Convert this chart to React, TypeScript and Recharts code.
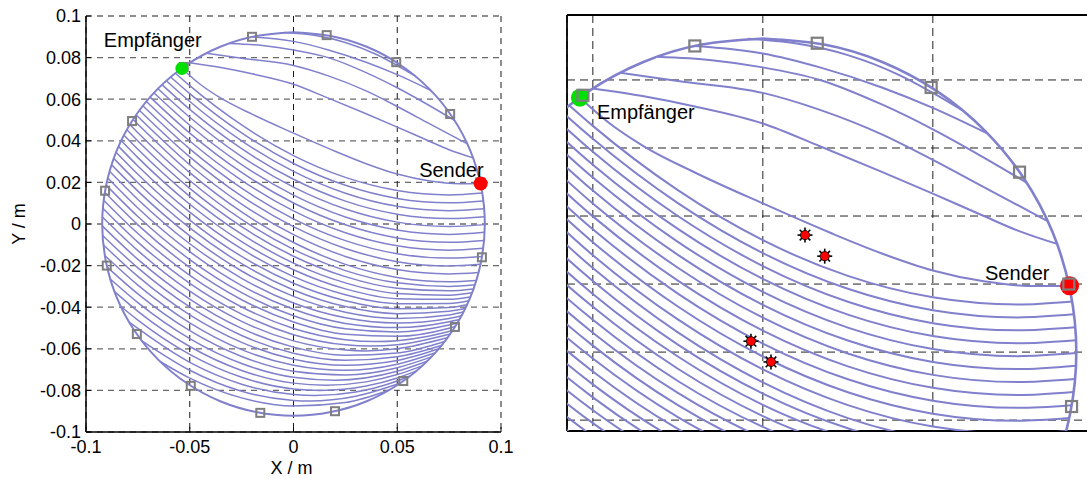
import React from 'react';
import { ComposedChart, Line, Scatter, XAxis, YAxis, CartesianGrid, Label } from 'recharts';

type Pt = [number, number];

// ---------- axis ticks / domains ----------
const X_TICKS_LEFT = [-0.1, -0.05, 0, 0.05, 0.1];
const Y_TICKS_LEFT = [-0.1, -0.08, -0.06, -0.04, -0.02, 0, 0.02, 0.04, 0.06, 0.08, 0.1];
const X_TICKS_RIGHT = [-0.05, 0, 0.05];
const Y_TICKS_RIGHT = [-0.02, 0, 0.02, 0.04, 0.06, 0.08];
const LEFT_X_DOMAIN: [number, number] = [-0.1, 0.1];
const LEFT_Y_DOMAIN: [number, number] = [-0.1, 0.1];
const RIGHT_X_DOMAIN: [number, number] = [-0.0576, 0.1024];
const RIGHT_Y_DOMAIN: [number, number] = [-0.0232, 0.0991];

// ---------- labelled points ----------
const SENDER: Pt[] = [[0.0902, 0.0195]];
const RECEIVER: Pt[] = [[-0.0538, 0.0748]];
const SENDER_LABEL = 'Sender';
const RECEIVER_LABEL = 'Empfänger';

// 16 electrodes on the rim
const ELECTRODES: Pt[] = [
  [0.09, 0.02], [0.0755, 0.0529], [0.0495, 0.0778], [0.016, 0.0908],
  [-0.02, 0.09], [-0.0529, 0.0755], [-0.0778, 0.0495], [-0.0908, 0.016],
  [-0.09, -0.02], [-0.0755, -0.0529], [-0.0495, -0.0778], [-0.016, -0.0908],
  [0.02, -0.09], [0.0529, -0.0755], [0.0778, -0.0495], [0.0908, -0.016],
];

// defects shown in the zoomed view
const DEFECTS: Pt[] = [
  [0.0124, 0.0344], [0.0182, 0.0282], [-0.0035, 0.0032], [0.0024, -0.0029],
];

// rim of the cross-section
const BOUNDARY: Pt[] = [
  [0, 0.0922], [-0.018, 0.0904], [-0.0353, 0.0852], [-0.0512, 0.0767], [-0.0652, 0.0652],
  [-0.0767, 0.0512], [-0.0852, 0.0353], [-0.0904, 0.018], [-0.0922, 0], [-0.0904, -0.018],
  [-0.0852, -0.0353], [-0.0767, -0.0512], [-0.0652, -0.0652], [-0.0512, -0.0767],
  [-0.0353, -0.0852], [-0.018, -0.0904], [0, -0.0922], [0.018, -0.0904], [0.0353, -0.0852],
  [0.0512, -0.0767], [0.0652, -0.0652], [0.0767, -0.0512], [0.0852, -0.0353], [0.0904, -0.018],
  [0.0922, 0], [0.0904, 0.018], [0.0852, 0.0353], [0.0767, 0.0512], [0.0652, 0.0652],
  [0.0512, 0.0767], [0.0353, 0.0852], [0.018, 0.0904], [0, 0.0922],
];

// isochrone curves above the Empfänger–Sender path
const UPPER_PATHS: Pt[][] = [
  [[-0.0045, 0.0921], [0.01, 0.0907], [0.025, 0.0873], [0.04, 0.0815], [0.05, 0.0762], [0.0585, 0.0712]],
  [[-0.02, 0.09], [0, 0.0878], [0.0168, 0.0837], [0.035, 0.0778], [0.05, 0.0718], [0.066, 0.0643]],
  [[-0.031, 0.0868], [-0.015, 0.0858], [0, 0.0837], [0.0168, 0.08], [0.035, 0.0728], [0.05, 0.0655], [0.065, 0.0572], [0.0776, 0.0498]],
  [[-0.042, 0.0821], [-0.025, 0.0797], [0, 0.0762], [0.0168, 0.0712], [0.035, 0.064], [0.05, 0.0565], [0.065, 0.0485], [0.0838, 0.0385]],
  [[-0.05, 0.0775], [-0.035, 0.0752], [-0.02, 0.0722], [0, 0.0672], [0.0168, 0.0605], [0.035, 0.053], [0.05, 0.0466], [0.065, 0.04], [0.075, 0.0357], [0.0865, 0.0318]],
];

// Empfänger–Sender path and the curves below it
const LOWER_PATHS: Pt[][] = [
  [[-0.0538, 0.0748], [-0.045, 0.0672], [-0.035, 0.0605], [-0.02, 0.0528], [0, 0.0437], [0.02, 0.035], [0.035, 0.029], [0.05, 0.024], [0.065, 0.0208], [0.08, 0.0194], [0.0902, 0.0195]],
  [[-0.0569, 0.0725], [-0.05, 0.0665], [-0.025, 0.0476], [0, 0.0329], [0.025, 0.0224], [0.05, 0.0161], [0.075, 0.014], [0.091, 0.0149]],
  [[-0.0592, 0.0707], [-0.05, 0.0627], [-0.025, 0.0438], [0, 0.0291], [0.025, 0.0186], [0.05, 0.0123], [0.075, 0.0102], [0.0915, 0.0111]],
  [[-0.0613, 0.0689], [-0.05, 0.0589], [-0.025, 0.04], [0, 0.0253], [0.025, 0.0148], [0.05, 0.0085], [0.075, 0.0064], [0.0919, 0.0073]],
  [[-0.0633, 0.0669], [-0.05, 0.0551], [-0.025, 0.0362], [0, 0.0215], [0.025, 0.011], [0.05, 0.0047], [0.075, 0.0026], [0.0921, 0.0035]],
  [[-0.0653, 0.065], [-0.05, 0.0513], [-0.025, 0.0324], [0, 0.0177], [0.025, 0.0072], [0.05, 0.0009], [0.075, -0.0012], [0.0922, -0.0003]],
  [[-0.0672, 0.063], [-0.05, 0.0475], [-0.025, 0.0286], [0, 0.0139], [0.025, 0.0034], [0.05, -0.0029], [0.075, -0.005], [0.0921, -0.004]],
  [[-0.0691, 0.061], [-0.05, 0.0437], [-0.025, 0.0248], [0, 0.0101], [0.025, -0.0004], [0.05, -0.0067], [0.075, -0.0088], [0.0918, -0.0079]],
  [[-0.0709, 0.0589], [-0.05, 0.0399], [-0.025, 0.021], [0, 0.0063], [0.025, -0.0042], [0.05, -0.0105], [0.075, -0.0126], [0.0914, -0.0117]],
  [[-0.0725, 0.0567], [-0.05, 0.0361], [-0.025, 0.0172], [0, 0.0025], [0.025, -0.008], [0.05, -0.0143], [0.075, -0.0164], [0.0908, -0.0156]],
  [[-0.0742, 0.0546], [-0.05, 0.0323], [-0.025, 0.0134], [0, -0.0013], [0.025, -0.0118], [0.05, -0.0181], [0.075, -0.0202], [0.0901, -0.0194]],
  [[-0.0758, 0.0524], [-0.05, 0.0285], [-0.025, 0.0096], [0, -0.0051], [0.025, -0.0156], [0.05, -0.0219], [0.075, -0.024], [0.0892, -0.0233]],
  [[-0.0772, 0.0501], [-0.05, 0.0247], [-0.025, 0.0058], [0, -0.0089], [0.025, -0.0194], [0.05, -0.0257], [0.075, -0.0278], [0.0881, -0.0272]],
  [[-0.0788, 0.0477], [-0.075, 0.0439], [-0.05, 0.0209], [-0.025, 0.0022], [0, -0.0122], [0.025, -0.0224], [0.05, -0.0283], [0.075, -0.03], [0.0875, -0.0292]],
  [[-0.0803, 0.0453], [-0.075, 0.0399], [-0.05, 0.0171], [-0.025, -0.0013], [0, -0.0155], [0.025, -0.0253], [0.05, -0.0309], [0.075, -0.0321], [0.0867, -0.0312]],
  [[-0.0816, 0.0426], [-0.075, 0.0359], [-0.05, 0.0133], [-0.025, -0.0049], [0, -0.0188], [0.025, -0.0283], [0.05, -0.0334], [0.075, -0.0342], [0.0861, -0.0331]],
  [[-0.0829, 0.0399], [-0.075, 0.0319], [-0.05, 0.0095], [-0.025, -0.0085], [0, -0.022], [0.025, -0.0312], [0.05, -0.0359], [0.075, -0.0362], [0.0852, -0.0351]],
  [[-0.0842, 0.0372], [-0.075, 0.0279], [-0.05, 0.0057], [-0.025, -0.012], [0, -0.0253], [0.025, -0.034], [0.05, -0.0383], [0.075, -0.0382], [0.0845, -0.0369]],
  [[-0.0854, 0.0344], [-0.075, 0.0239], [-0.05, 0.0019], [-0.025, -0.0156], [0, -0.0285], [0.025, -0.0369], [0.05, -0.0407], [0.075, -0.0401], [0.0836, -0.0388]],
  [[-0.0864, 0.0313], [-0.075, 0.0198], [-0.05, -0.0019], [-0.025, -0.0191], [0, -0.0317], [0.025, -0.0397], [0.05, -0.0431], [0.075, -0.0419], [0.0826, -0.0406]],
  [[-0.0874, 0.0282], [-0.075, 0.0158], [-0.05, -0.0057], [-0.025, -0.0226], [0, -0.0348], [0.025, -0.0424], [0.05, -0.0454], [0.075, -0.0437], [0.0818, -0.0423]],
  [[-0.0884, 0.0251], [-0.075, 0.0118], [-0.05, -0.0095], [-0.025, -0.0261], [0, -0.038], [0.025, -0.0451], [0.05, -0.0476], [0.075, -0.0454], [0.0809, -0.0441]],
  [[-0.0894, 0.022], [-0.075, 0.0077], [-0.05, -0.0133], [-0.025, -0.0296], [0, -0.041], [0.025, -0.0478], [0.05, -0.0498], [0.075, -0.047], [0.0799, -0.0459]],
  [[-0.0903, 0.0187], [-0.075, 0.0036], [-0.05, -0.0171], [-0.025, -0.033], [0, -0.0441], [0.025, -0.0504], [0.05, -0.0519], [0.075, -0.0486], [0.0788, -0.0477]],
  [[-0.0909, 0.0151], [-0.075, -0.0004], [-0.05, -0.0209], [-0.025, -0.0364], [0, -0.0471], [0.025, -0.053], [0.05, -0.054], [0.075, -0.0501], [0.0779, -0.0493]],
  [[-0.0915, 0.0114], [-0.075, -0.0046], [-0.05, -0.0247], [-0.025, -0.0399], [0, -0.0502], [0.025, -0.0556], [0.04, -0.0565], [0.05, -0.0561], [0.065, -0.054], [0.0766, -0.0512]],
  [[-0.0919, 0.0076], [-0.075, -0.0087], [-0.05, -0.0285], [-0.025, -0.0433], [0, -0.0532], [0.025, -0.0581], [0.0372, -0.0587], [0.05, -0.0581], [0.0755, -0.0529]],
  [[-0.0921, 0.0034], [-0.075, -0.0128], [-0.05, -0.0323], [-0.025, -0.0468], [0, -0.0562], [0.025, -0.0606], [0.0345, -0.061], [0.05, -0.06], [0.0745, -0.0546]],
  [[-0.0922, -0.0009], [-0.075, -0.017], [-0.05, -0.0361], [-0.025, -0.0502], [0, -0.0592], [0.025, -0.0631], [0.05, -0.062], [0.0728, -0.0565]],
  [[-0.092, -0.0055], [-0.075, -0.0211], [-0.05, -0.0399], [-0.025, -0.0536], [0, -0.0621], [0.025, -0.0655], [0.05, -0.0638], [0.0716, -0.0583]],
  [[-0.0917, -0.01], [-0.075, -0.0252], [-0.05, -0.0437], [-0.025, -0.0569], [0, -0.065], [0.025, -0.0679], [0.05, -0.0656], [0.07, -0.06]],
  [[-0.0907, -0.0154], [-0.075, -0.0294], [-0.05, -0.0475], [-0.025, -0.0604], [0, -0.0679], [0.025, -0.0703], [0.05, -0.0674], [0.0684, -0.0619]],
  [[-0.0898, -0.0207], [-0.075, -0.0336], [-0.05, -0.0513], [-0.025, -0.0637], [0, -0.0708], [0.025, -0.0726], [0.05, -0.0691], [0.0665, -0.0639]],
  [[-0.0886, -0.0262], [-0.075, -0.0378], [-0.05, -0.0551], [-0.025, -0.0671], [0, -0.0737], [0.02, -0.0751], [0.05, -0.0708], [0.0644, -0.066]],
  [[-0.0865, -0.0323], [-0.075, -0.042], [-0.05, -0.0589], [-0.025, -0.0704], [0, -0.0765], [0.0156, -0.0775], [0.035, -0.0759], [0.05, -0.0724], [0.062, -0.0682]],
  [[-0.0835, -0.0394], [-0.075, -0.0462], [-0.05, -0.0627], [-0.025, -0.0737], [0, -0.0793], [0.0129, -0.08], [0.035, -0.0779], [0.05, -0.074], [0.0593, -0.0706]],
  [[-0.0792, -0.0472], [-0.05, -0.0665], [-0.025, -0.077], [0, -0.082], [0.0102, -0.0825], [0.03, -0.0808], [0.05, -0.0755], [0.056, -0.0732]],
  [[-0.0734, -0.0559], [-0.05, -0.0703], [-0.025, -0.0804], [0, -0.0848], [0.0075, -0.0851], [0.03, -0.0828], [0.0513, -0.0766]],
  [[-0.0643, -0.0661], [-0.05, -0.0741], [-0.025, -0.0836], [0, -0.0875], [0.025, -0.0858], [0.0462, -0.0798]],
];

// ---------- styles ----------
const FONT = '"Liberation Sans", Arial, Helvetica, sans-serif';
const CURVE = '#8080CC';
const MARKER = '#7f7f7f';

const rows = (pts: Pt[]) => pts.map(([x, y]) => ({ x, y }));
const ALL_PATHS = [...UPPER_PATHS, ...LOWER_PATHS];

const YTick = (props: any) => {
  const { x, y, payload } = props;
  return (
    <g>
      <line x1={x + 5} x2={x + 10} y1={y} y2={y} stroke="#000" strokeWidth={1} />
      <text x={x} y={y} dy="0.355em" textAnchor="end" fontFamily={FONT} fontSize={18} fill="#000">
        {String(payload.value)}
      </text>
    </g>
  );
};

const XTick = (props: any) => {
  const { x, y, payload } = props;
  return (
    <g>
      <line x1={x} x2={x} y1={y - 8} y2={y - 13} stroke="#000" strokeWidth={1} />
      <text x={x} y={y} dy="0.71em" textAnchor="middle" fontFamily={FONT} fontSize={18} fill="#000">
        {String(payload.value)}
      </text>
    </g>
  );
};

// the zoomed panel has no tick labels
const NoTick = () => <g />;

const squareShape = (size: number, sw: number) => (p: any) => (
  <rect x={p.cx - size / 2} y={p.cy - size / 2} width={size} height={size}
    fill="none" stroke={MARKER} strokeWidth={sw} />
);

const dotShape = (r: number, fill: string, text: string, dx: number, dy: number, anchor: string) => (p: any) => (
  <g>
    {r > 0 ? <circle cx={p.cx} cy={p.cy} r={r} fill={fill} stroke="none" /> : null}
    {text ? <text x={p.cx + dx} y={p.cy + dy} textAnchor={anchor} fontFamily={FONT} fontSize={20} fill="#000">{text}</text> : null}
  </g>
);

const starShape = (p: any) => {
  const spikes = [];
  for (let i = 0; i < 8; i++) {
    const a = (i * Math.PI) / 4;
    spikes.push(
      <line key={i} x1={p.cx} y1={p.cy} x2={p.cx + 7.5 * Math.cos(a)} y2={p.cy + 7.5 * Math.sin(a)}
        stroke="#000" strokeWidth={1.6} />
    );
  }
  return (
    <g>
      {spikes}
      <circle cx={p.cx} cy={p.cy} r={4.6} fill="#ff0000" stroke="#000" strokeWidth={0.8} />
    </g>
  );
};

const curves = (sw: number, bw: number) => [
  ...ALL_PATHS.map((p, i) => (
    <Line key={'c' + i} data={rows(p)} dataKey="y" type="monotone" stroke={CURVE} strokeWidth={sw}
      dot={false} activeDot={false} isAnimationActive={false} legendType="none" />
  )),
  <Line key="rim" data={rows(BOUNDARY)} dataKey="y" type="natural" stroke={CURVE} strokeWidth={bw}
    dot={false} activeDot={false} isAnimationActive={false} legendType="none" />,
];

// frame lines of the zoomed panel: at the edges of the plotting area
const frameRows = ({ offset }: any) => [offset.top, offset.top + offset.height];
const frameCols = ({ offset }: any) => [offset.left, offset.left + offset.width];

const LeftPanel = () => (
  <ComposedChart width={520} height={479} margin={{ top: 16, right: 19, bottom: 17, left: 6 }}>
    <CartesianGrid horizontal={true} vertical={false} stroke="#6a6a6a" strokeWidth={1.3} strokeDasharray="6 5" />
    <CartesianGrid horizontal={false} vertical={true} stroke="#1a1a1a" strokeWidth={1} strokeDasharray="6 5" />
    <XAxis dataKey="x" type="number" domain={LEFT_X_DOMAIN} ticks={X_TICKS_LEFT} allowDataOverflow
      interval={0} height={30} tickSize={0} tickMargin={8} tickLine={false}
      axisLine={{ stroke: '#000', strokeWidth: 1.5 }} tick={<XTick />}>
      <Label content={(p: any) => {
        const vb = p.viewBox;
        return (
          <text x={vb.x + vb.width / 2 - 2} y={vb.y + 42} textAnchor="middle" fontFamily={FONT} fontSize={18} fill="#000">X / m</text>
        );
      }} />
    </XAxis>
    <YAxis dataKey="y" type="number" domain={LEFT_Y_DOMAIN} ticks={Y_TICKS_LEFT} allowDataOverflow
      interval={0} width={80} tickSize={0} tickMargin={5} tickLine={false}
      axisLine={{ stroke: '#000', strokeWidth: 1.5 }} tick={<YTick />}>
      <Label content={(p: any) => {
        const vb = p.viewBox;
        const cx = vb.x + 19;
        const cy = vb.y + vb.height / 2;
        return (
          <text x={cx} y={cy} transform={`rotate(-90, ${cx}, ${cy})`} textAnchor="middle" fontFamily={FONT} fontSize={18} fill="#000">Y / m</text>
        );
      }} />
    </YAxis>
    {curves(1.5, 2)}
    <Scatter data={rows(ELECTRODES)} shape={squareShape(8, 2)} isAnimationActive={false} legendType="none" />
    <Scatter data={rows(RECEIVER)} shape={dotShape(6.5, '#00e000', RECEIVER_LABEL, -78, -21, 'start')} isAnimationActive={false} legendType="none" />
    <Scatter data={rows(SENDER)} shape={dotShape(7, '#ff0000', SENDER_LABEL, 3, -6, 'end')} isAnimationActive={false} legendType="none" />
  </ComposedChart>
);

const RightPanel = () => (
  <ComposedChart width={560} height={479} margin={{ top: 15, right: 10, bottom: 48, left: 6 }}>
    <CartesianGrid horizontal={true} vertical={false} stroke="#222" strokeWidth={1} strokeDasharray="8 5" />
    <CartesianGrid horizontal={false} vertical={true} stroke="#222" strokeWidth={1} strokeDasharray="8 5" />
    <CartesianGrid stroke="#000" strokeWidth={1.8}
      horizontalCoordinatesGenerator={frameRows} verticalCoordinatesGenerator={frameCols} />
    <XAxis dataKey="x" type="number" domain={RIGHT_X_DOMAIN} ticks={X_TICKS_RIGHT} allowDataOverflow
      interval={0} height={0} tickSize={0} tick={<NoTick />} tickLine={false}
      axisLine={{ stroke: '#000', strokeWidth: 1.8 }} />
    <YAxis dataKey="y" type="number" domain={RIGHT_Y_DOMAIN} ticks={Y_TICKS_RIGHT} allowDataOverflow
      interval={0} width={0} tickSize={0} tick={<NoTick />} tickLine={false}
      axisLine={{ stroke: '#000', strokeWidth: 1.8 }} />
    {curves(2, 2.6)}
    <Scatter data={rows(RECEIVER)} shape={dotShape(9, '#00e000', '', 0, 0, 'start')} isAnimationActive={false} legendType="none" />
    <Scatter data={rows(SENDER)} shape={dotShape(9.5, '#ff0000', '', 0, 0, 'end')} isAnimationActive={false} legendType="none" />
    <Scatter data={rows(ELECTRODES)} shape={squareShape(11, 2.2)} isAnimationActive={false} legendType="none" />
    <Scatter data={rows(RECEIVER)} shape={dotShape(0, 'none', RECEIVER_LABEL, 17, 21, 'start')} isAnimationActive={false} legendType="none" />
    <Scatter data={rows(SENDER)} shape={dotShape(0, 'none', SENDER_LABEL, -20, -6, 'end')} isAnimationActive={false} legendType="none" />
    <Scatter data={rows(DEFECTS)} shape={starShape} isAnimationActive={false} legendType="none" />
  </ComposedChart>
);

export default function App() {
  return (
    <div style={{ position: 'absolute', left: 0, top: 0, width: 1087, height: 479, overflow: 'hidden', background: '#fff' }}>
      <div style={{ position: 'absolute', left: 0, top: 0 }}>
        <LeftPanel />
      </div>
      <div style={{ position: 'absolute', left: 561, top: 0 }}>
        <RightPanel />
      </div>
    </div>
  );
}
